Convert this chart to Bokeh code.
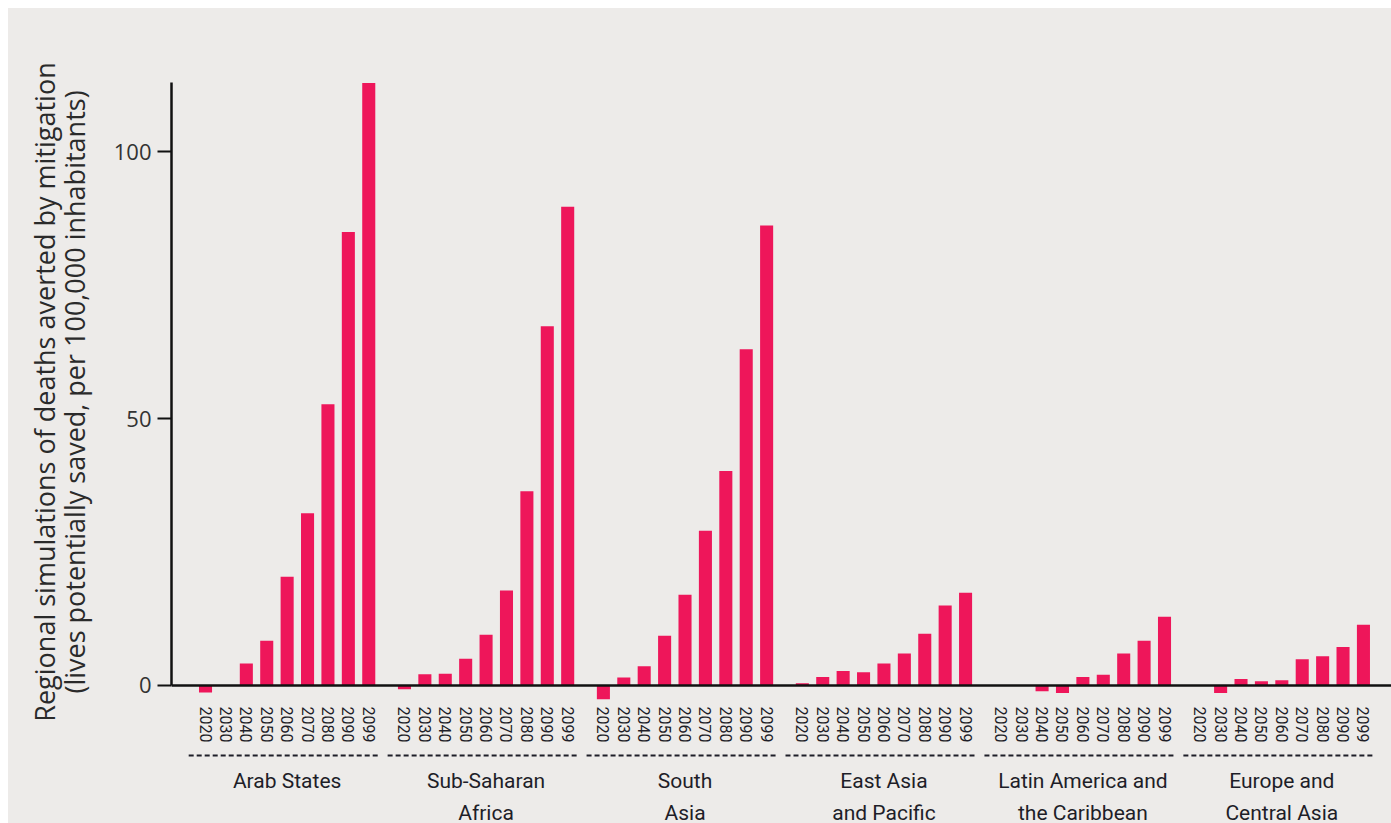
from bokeh.plotting import figure
from bokeh.models import Range1d, FixedTicker, Span
from bokeh.layouts import column
from bokeh.embed import file_html
from bokeh.resources import INLINE
from bokeh.core.properties import value

# ---------------- data ----------------
regions = ["Arab States", "Sub-Saharan\nAfrica", "South\nAsia", "East Asia\nand Pacific",
           "Latin America and\nthe Caribbean", "Europe and\nCentral Asia"]
years = ["2020", "2030", "2040", "2050", "2060", "2070", "2080", "2090", "2099"]

arab_states = [-1.3, 0.0, 4.1, 8.4, 20.4, 32.3, 52.7, 85.0, 112.9]
sub_saharan_africa = [-0.7, 2.1, 2.2, 5.0, 9.5, 17.8, 36.4, 67.3, 89.7]
south_asia = [-2.6, 1.5, 3.6, 9.3, 17.0, 29.0, 40.2, 63.0, 86.2]
east_asia_pacific = [0.4, 1.6, 2.7, 2.5, 4.1, 6.0, 9.7, 15.0, 17.4]
latin_america_caribbean = [0.0, 0.0, -1.1, -1.4, 1.6, 2.0, 6.0, 8.4, 12.9]
europe_central_asia = [0.0, -1.4, 1.2, 0.8, 1.0, 4.9, 5.5, 7.2, 11.4]

y_ticks = [0, 50, 100]
y_title = ("Regional simulations of deaths averted by mitigation\n"
           "(lives potentially saved, per 100,000 inhabitants)")

series = [arab_states, sub_saharan_africa, south_asia, east_asia_pacific,
          latin_america_caribbean, europe_central_asia]

# ---------------- layout constants ----------------
W = 1383
LEFT = 163
BAR_STEP = 4
GROUP_STEP = 39
BG = "#EDEBE9"
BAR = "#EE165A"
INK = "#1E1E28"

xs, tops, overrides = [], [], {}
for g, vals in enumerate(series):
    for i, v in enumerate(vals):
        x = g * GROUP_STEP + i * BAR_STEP
        xs.append(x)
        tops.append(v)
        overrides[x] = years[i]

x_range = Range1d(-6.67, 232.5)

p = figure(width=W, height=737, x_range=x_range, y_range=Range1d(-3, 113),
           output_backend="svg", toolbar_location=None,
           min_border_top=74, min_border_left=LEFT, min_border_right=0, min_border_bottom=43,
           background_fill_color=BG, border_fill_color=BG, outline_line_color=None)
p.grid.visible = False

p.vbar(x=xs, top=tops, bottom=0, width=2.56, fill_color=BAR, line_color=None)
p.add_layout(Span(location=0, dimension="width", line_color="#111111", line_width=2.5))

xa = p.xaxis[0]
xa.ticker = FixedTicker(ticks=sorted(overrides.keys()))
xa.major_label_overrides = overrides
xa.major_label_orientation = "vertical"
xa.axis_line_color = None
xa.major_tick_line_color = None
xa.major_tick_out = 0
xa.major_tick_in = 0
xa.minor_tick_line_color = None
xa.major_label_standoff = 5
xa.major_label_text_font = "Roboto"
xa.major_label_text_font_size = "16px"
xa.major_label_text_color = INK

ya = p.yaxis[0]
ya.ticker = FixedTicker(ticks=y_ticks)
ya.bounds = (0, 113)
ya.axis_line_width = 2.5
ya.axis_line_color = "#111111"
ya.major_tick_out = 14
ya.major_tick_in = 0
ya.major_tick_line_width = 2
ya.major_tick_line_color = "#111111"
ya.minor_tick_line_color = None
ya.major_label_standoff = 6
ya.major_label_text_font = "Open Sans"
ya.major_label_text_font_size = "22px"
ya.major_label_text_color = "#333333"
ya.axis_label = y_title
ya.axis_label_text_font = "Open Sans"
ya.axis_label_text_font_size = "27px"
ya.axis_label_text_font_style = "normal"
ya.axis_label_text_line_height = 0.8
ya.axis_label_text_color = "#2A2A2A"
ya.axis_label_standoff = 18

# ---------------- region labels strip ----------------
p2 = figure(width=W, height=78, x_range=x_range, y_range=Range1d(0, 78),
            output_backend="svg", toolbar_location=None,
            x_axis_location=None, y_axis_location=None,
            min_border_top=0, min_border_bottom=0, min_border_left=LEFT, min_border_right=0,
            background_fill_color=BG, border_fill_color=BG, outline_line_color=None)
p2.grid.visible = False

n = len(years)
x0s = [g * GROUP_STEP - 3.3 for g in range(len(regions))]
x1s = [g * GROUP_STEP + (n - 1) * BAR_STEP + 2.0 for g in range(len(regions))]
p2.segment(x0=x0s, y0=[68] * len(regions), x1=x1s, y1=[68] * len(regions),
           line_color=INK, line_width=2, line_dash="5 3")

centers = [g * GROUP_STEP + (n - 1) * BAR_STEP / 2 for g in range(len(regions))]
line1 = [r.split("\n")[0] for r in regions]
line2 = [r.split("\n")[1] if "\n" in r else "" for r in regions]
for txt, yy in ((line1, 43), (line2, 11)):
    p2.text(x=centers, y=[yy] * len(regions), text=txt,
            text_font=value("Roboto"), text_font_size="21px", text_color=INK,
            text_align="center", text_baseline="alphabetic")

layout = column(p, p2, spacing=0, margin=(8, 0, 0, 8),
                styles={"background-color": BG})
open("out.html", "w").write(file_html(layout, INLINE))
